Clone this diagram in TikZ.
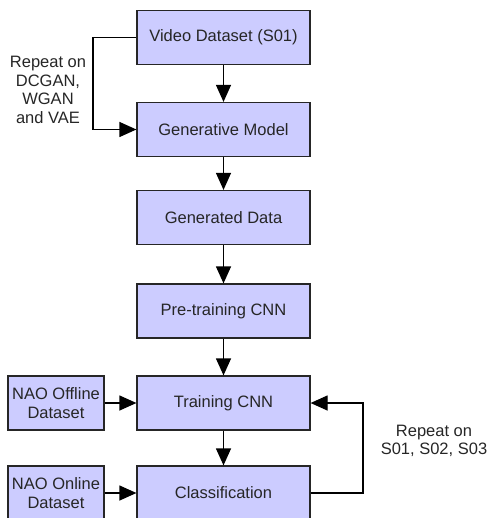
\documentclass[tikz,border=0pt]{standalone}
\usepackage{fontspec}
\setmainfont{Liberation Sans}
\usetikzlibrary{arrows.meta}
\definecolor{boxfill}{HTML}{CCCCFF}
\tikzset{
    blok/.style={draw=black!85, fill=boxfill, line width=1.2pt, minimum width=173pt, minimum height=54pt, inner sep=0pt, text=black!85},
    sidebox/.style={blok, minimum width=96pt, align=center},
    arr/.style={line width=1.2pt, draw=black, -{Triangle[length=17pt,width=15pt]}},
    note/.style={align=center, text=black!85, inner sep=0pt},
}

\begin{document}
\begin{tikzpicture}[x=1pt,y=-1pt,font=\fontsize{16.5}{18.5}\selectfont]
\useasboundingbox (0,0) rectangle (491,518);
\node[blok] (video) at (223.5,37.5) {Video Dataset (S01)};
\node[blok] (gen) at (223.5,129.5) {Generative Model};
\node[blok] (data) at (223.5,217.5) {Generated Data};
\node[blok] (pre) at (223.5,311) {Pre-training CNN};
\node[blok] (train) at (223.5,403) {Training CNN};
\node[blok] (cls) at (223.5,493) {Classification};
\node[sidebox] (off) at (56,403) {NAO Offline\\Dataset};
\node[sidebox] (on) at (56,493) {NAO Online\\Dataset};
\coordinate (lt) at (93,37.5);
\coordinate (lb) at (93,129.5);
\coordinate (rb) at (363,493);
\coordinate (rt) at (363,403);
\node[note] (lnote) at (48,90) {Repeat on\\DCGAN,\\WGAN\\and VAE};
\node[note] (rnote) at (434,441) {Repeat on\\S01, S02, S03};
% main column
\draw[arr] (video) -- (gen);
\draw[arr] (gen) -- (data);
\draw[arr] (data) -- (pre);
\draw[arr] (pre) -- (train);
\draw[arr] (train) -- (cls);
\draw[arr] (off) -- (train);
\draw[arr] (on) -- (cls);
% loops
\draw[arr] (video.west) -- (lt) -- (lb) -- (gen.west);
\draw[arr] (cls.east) -- (rb) -- (rt) -- (train.east);
\end{tikzpicture}
\end{document}
